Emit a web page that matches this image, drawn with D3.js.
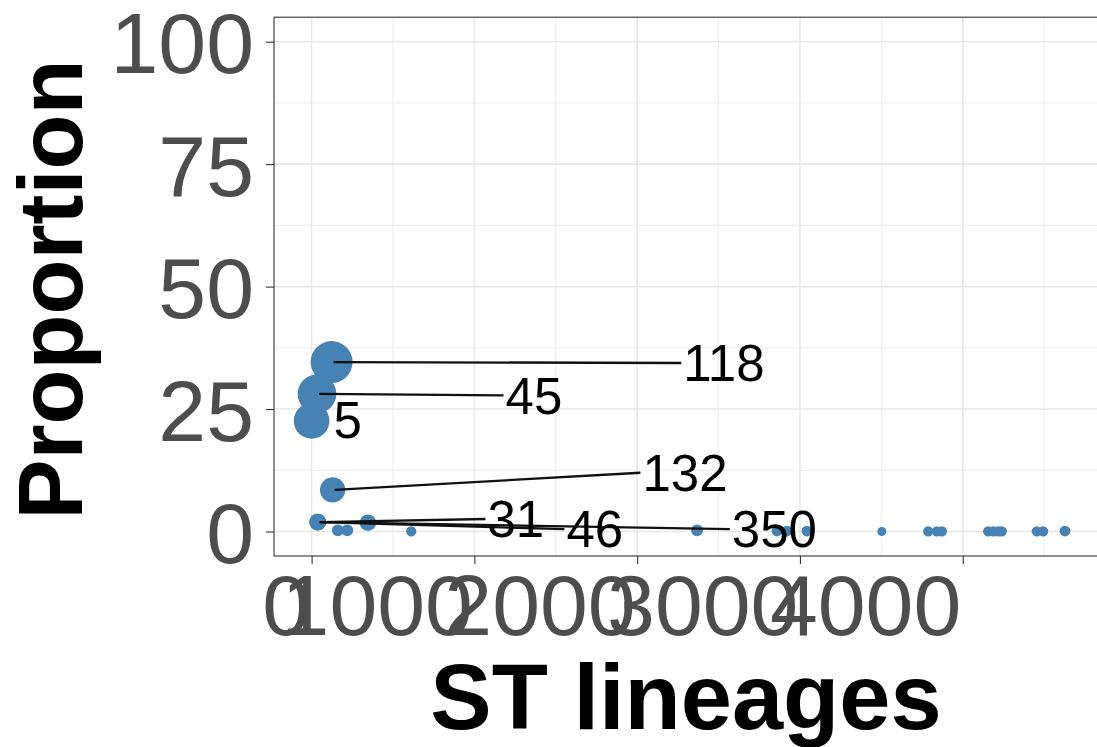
<!DOCTYPE html>
<html>
<head>
<meta charset="utf-8">
<script src="https://cdn.jsdelivr.net/npm/d3@7"></script>
<style>
  html, body { margin: 0; padding: 0; background: #ffffff; }
  svg { display: block; }
  text { font-family: "Liberation Sans", Arial, Helvetica, sans-serif; }
</style>
</head>
<body>
<svg id="chart" width="1097" height="747"></svg>
<script>
// ---------------- data ----------------
// labelled ST lineages (ggrepel labels)
const stLabels   = ["118", "45", "5", "132", "31", "46", "350"];
const labeledX   = [123, 33, 0, 129, 38, 38, 38];
const labeledY   = [34.6, 28.1, 22.6, 8.5, 1.9, 1.9, 1.9];
// where the repelled label boxes ended up (data units: left edge, vertical centre)
const labelPosX  = [2271, 1179, 123, 2020, 1068, 1553, 2569];
const labelPosY  = [34.4, 27.8, 22.8, 12.0, 2.55, 0.5, 0.5];
const hasSegment = [true, true, false, true, true, true, true];

// unlabelled ST lineages
const otherX = [161, 219, 346, 612, 2368, 2859, 2920, 3043, 3503, 3788, 3841, 3872,
                4156, 4187, 4218, 4240, 4455, 4494, 4628];
const otherY = [0.25, 0.25, 1.8, 0.05, 0.25, 0.1, 0.1, 0.1, 0.0, 0.05, 0.05, 0.05,
                0.05, 0.05, 0.05, 0.05, 0.05, 0.05, 0.1];

// axis ticks
const xMajor = [0, 1000, 2000, 3000, 4000];
const xMinor = [500, 1500, 2500, 3500, 4500];
const yMajor = [0, 25, 50, 75, 100];
const yMinor = [12.5, 37.5, 62.5, 87.5];
const xTitle = "ST lineages";
const yTitle = "Proportion";

// ---------------- layout ----------------
const svg = d3.select("#chart");
const panel = { left: 274, right: 1098, top: 17.2, bottom: 556 };

const x = d3.scaleLinear().domain([-231, 4831]).range([panel.left, panel.right]);
const y = d3.scaleLinear().domain([-5, 105]).range([panel.bottom, panel.top]);
const allY = labeledY.concat(otherY);
const r = d3.scaleSqrt().domain([0, d3.max(allY)]).range([4.5, 21]);

svg.append("rect").attr("width", 1097).attr("height", 747).attr("fill", "#ffffff");

svg.append("clipPath").attr("id", "pclip")
  .append("rect")
  .attr("x", panel.left).attr("y", panel.top)
  .attr("width", panel.right - panel.left).attr("height", panel.bottom - panel.top);

const grid = svg.append("g").attr("clip-path", "url(#pclip)");
// minor grid
grid.selectAll(".xmin").data(xMinor).join("line")
  .attr("x1", d => x(d)).attr("x2", d => x(d))
  .attr("y1", panel.top).attr("y2", panel.bottom)
  .attr("stroke", "#ebebeb").attr("stroke-width", 0.9);
grid.selectAll(".ymin").data(yMinor).join("line")
  .attr("y1", d => y(d)).attr("y2", d => y(d))
  .attr("x1", panel.left).attr("x2", panel.right)
  .attr("stroke", "#ebebeb").attr("stroke-width", 0.9);
// major grid
grid.selectAll(".xmaj").data(xMajor).join("line")
  .attr("x1", d => x(d)).attr("x2", d => x(d))
  .attr("y1", panel.top).attr("y2", panel.bottom)
  .attr("stroke", "#e8e8e8").attr("stroke-width", 1.6);
grid.selectAll(".ymaj").data(yMajor).join("line")
  .attr("y1", d => y(d)).attr("y2", d => y(d))
  .attr("x1", panel.left).attr("x2", panel.right)
  .attr("stroke", "#e8e8e8").attr("stroke-width", 1.6);

// ---------------- marks ----------------
const marks = svg.append("g").attr("clip-path", "url(#pclip)");
const others = otherX.map((v, i) => ({ x: v, y: otherY[i] }));
const labelled = stLabels.map((s, i) => ({
  label: s, x: labeledX[i], y: labeledY[i],
  lx: labelPosX[i], ly: labelPosY[i], seg: hasSegment[i]
}));

marks.selectAll(".pt").data(others).join("circle")
  .attr("cx", d => x(d.x)).attr("cy", d => y(d.y)).attr("r", d => r(d.y))
  .attr("fill", "#4682b4");
marks.selectAll(".lpt").data(labelled.slice().reverse()).join("circle")
  .attr("cx", d => x(d.x)).attr("cy", d => y(d.y)).attr("r", d => r(d.y))
  .attr("fill", "#4682b4");

// segments
marks.selectAll(".seg").data(labelled.filter(d => d.seg)).join("line")
  .attr("x1", d => x(d.x) + 2).attr("y1", d => y(d.y))
  .attr("x2", d => x(d.lx)).attr("y2", d => y(d.ly))
  .attr("stroke", "#111111").attr("stroke-width", 2.3);

// labels
marks.selectAll(".lab").data(labelled).join("text")
  .attr("x", d => x(d.lx) + 2).attr("y", d => y(d.ly))
  .attr("dy", "0.36em")
  .attr("font-size", 51).attr("fill", "#000000")
  .text(d => d.label);

// ---------------- panel border ----------------
svg.append("rect")
  .attr("x", panel.left).attr("y", panel.top)
  .attr("width", panel.right - panel.left).attr("height", panel.bottom - panel.top)
  .attr("fill", "none").attr("stroke", "#333333").attr("stroke-width", 1.1);

// ---------------- axes ----------------
const xAxis = svg.append("g").attr("transform", `translate(0,${panel.bottom})`)
  .call(d3.axisBottom(x).tickValues(xMajor).tickSize(8).tickFormat(d3.format("d")));
xAxis.select(".domain").remove();
xAxis.selectAll(".tick line").attr("stroke", "#333333").attr("stroke-width", 1.1);
xAxis.selectAll(".tick text")
  .attr("text-anchor", "end").attr("x", -2).attr("y", 79).attr("dy", null)
  .attr("font-size", 86).attr("fill", "#4d4d4d")
  .style("font-family", '"Liberation Sans", Arial, Helvetica, sans-serif');

const yAxis = svg.append("g").attr("transform", `translate(${panel.left},0)`)
  .call(d3.axisLeft(y).tickValues(yMajor).tickSize(8).tickFormat(d3.format("d")));
yAxis.select(".domain").remove();
yAxis.selectAll(".tick line").attr("stroke", "#333333").attr("stroke-width", 1.1);
yAxis.selectAll(".tick text")
  .attr("x", -20).attr("dy", "0.36em")
  .attr("font-size", 86).attr("fill", "#4d4d4d")
  .style("font-family", '"Liberation Sans", Arial, Helvetica, sans-serif');

// ---------------- titles ----------------
svg.append("text")
  .attr("x", (panel.left + panel.right) / 2).attr("y", 729)
  .attr("text-anchor", "middle")
  .attr("font-size", 92).attr("font-weight", "bold").attr("fill", "#000000")
  .text(xTitle);

svg.append("text")
  .attr("transform", `translate(82,${(panel.top + panel.bottom) / 2 + 3}) rotate(-90)`)
  .attr("text-anchor", "middle")
  .attr("font-size", 90).attr("font-weight", "bold").attr("fill", "#000000")
  .text(yTitle);
</script>
</body>
</html>
